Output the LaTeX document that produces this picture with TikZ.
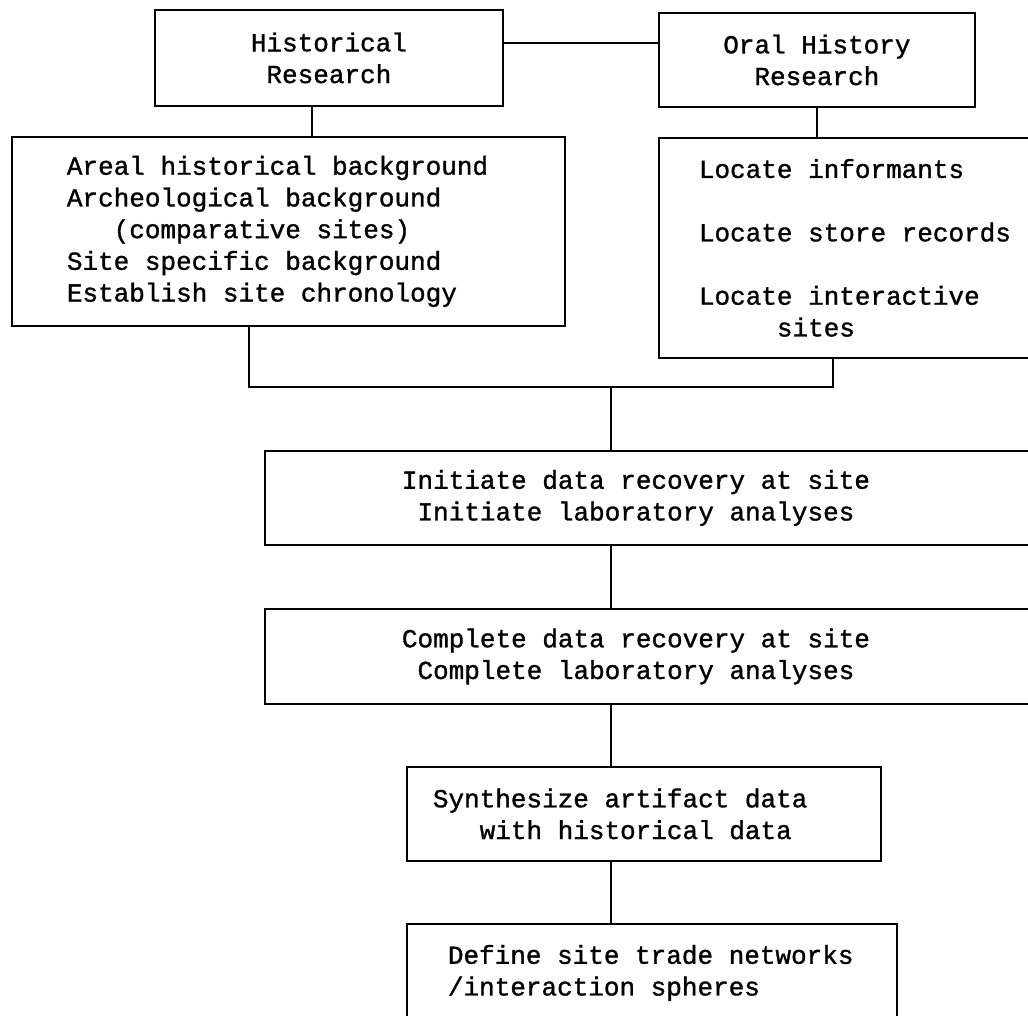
\documentclass[tikz,border=0pt]{standalone}
\usepackage{fontspec}
\setmonofont{Liberation Mono}[FakeBold=1.2]
\usetikzlibrary{positioning}

\begin{document}
\begin{tikzpicture}[x=1pt, y=-1pt,
  box/.style={draw, rectangle, line width=1.8pt, anchor=north west,
    align=flush left, inner ysep=2pt, font=\ttfamily\fontsize{26}{31.7}\selectfont},
  link/.style={line width=1.8pt}
]
  \clip (0,0) rectangle (1028,1015);

  \node[box, align=flush center, inner sep=0pt, minimum width=348pt, minimum height=96pt]
    (hist) at (154,9) {Historical\\Research};
  \node[box, align=flush center, inner sep=0pt, minimum width=316pt, minimum height=94pt]
    (oral) at (658,12) {Oral History\\Research};

  \node[box, inner xsep=55pt, text width=443pt, minimum height=189pt]
    (areal) at (11,136) {Areal historical background\\Archeological background\\
      \phantom{abc}(comparative sites)\\Site specific background\\Establish site chronology};
  \node[box, inner xsep=40pt, text width=500pt, minimum height=220pt]
    (locate) at (658,137) {Locate informants\\[31.7pt]Locate store records\\[31.7pt]
      Locate interactive\\\phantom{abcde}sites};

  \node[box, inner xsep=137pt, text width=700pt, minimum height=94pt]
    (init) at (264,450) {Initiate data recovery at site\\\phantom{a}Initiate laboratory analyses};
  \node[box, inner xsep=137pt, text width=700pt, minimum height=95pt]
    (compl) at (264,608) {Complete data recovery at site\\\phantom{a}Complete laboratory analyses};

  \node[box, inner xsep=26pt, text width=422pt, minimum height=94pt]
    (synth) at (406,766) {Synthesize artifact data\\\phantom{abc}with historical data};
  \node[box, inner xsep=41pt, text width=408pt, minimum height=98pt]
    (define) at (406,923) {Define site trade networks\\/interaction spheres};

  \coordinate (join) at (611,387);

  \draw[link] ([yshift=15pt]hist.east) -- ([yshift=15pt]hist.east -| oral.west);
  \draw[link] ([xshift=-17pt]hist.south) -- ([xshift=-17pt]hist.south |- areal.north);
  \draw[link] (oral.south) -- (oral.south |- locate.north);
  \draw[link] ([xshift=238pt]areal.south west) |- (join);
  \draw[link] ([xshift=175pt]locate.south west) |- (join);
  \draw[link] (join) -- (join |- init.north);
  \draw[link] (init.south -| join) -- (join |- compl.north);
  \draw[link] (compl.south -| join) -- (join |- synth.north);
  \draw[link] (synth.south -| join) -- (join |- define.north);
\end{tikzpicture}
\end{document}
